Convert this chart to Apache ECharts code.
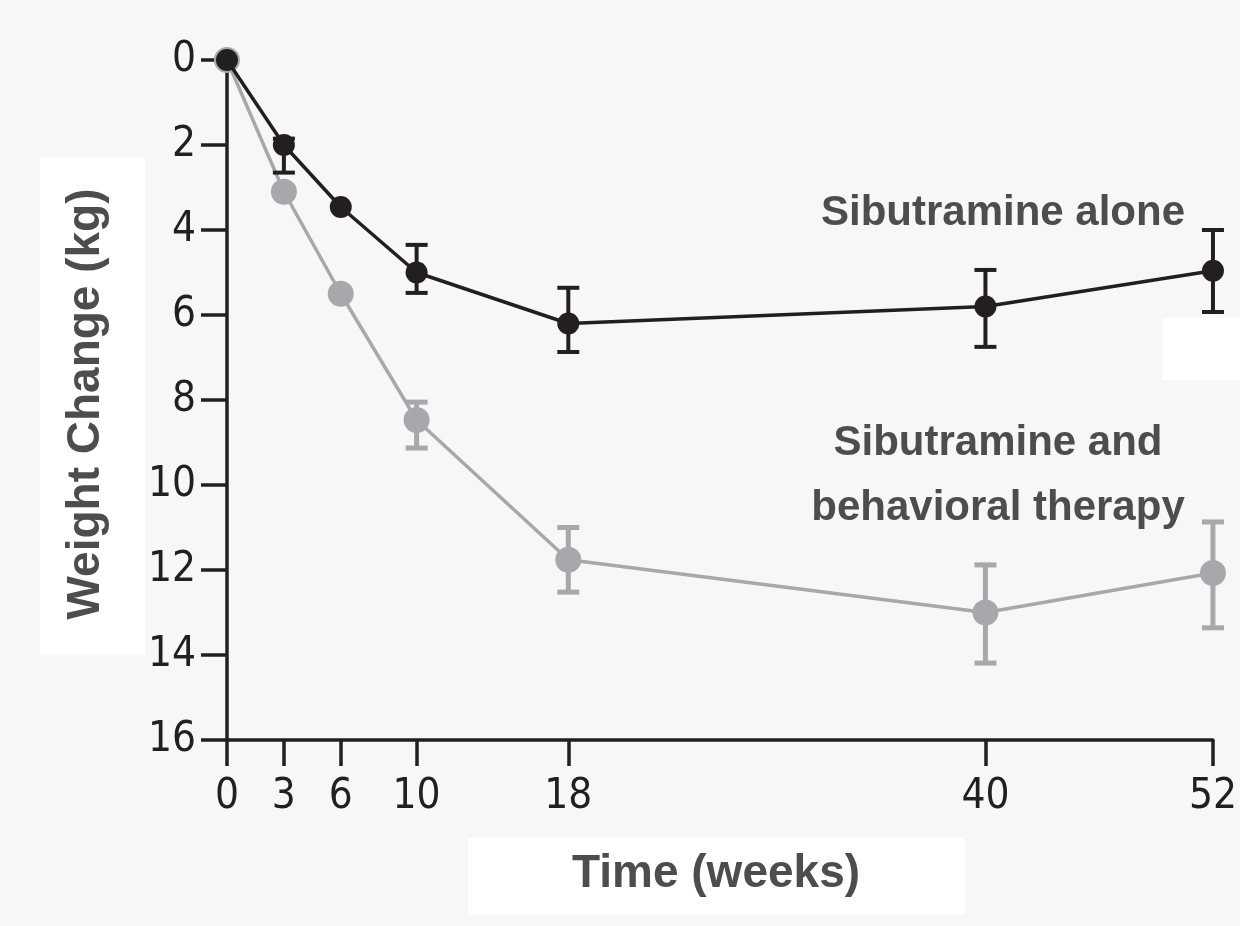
<!DOCTYPE html>
<html>
<head>
<meta charset="utf-8">
<script src="https://cdn.jsdelivr.net/npm/echarts@6/dist/echarts.min.js"></script>
<style>
html,body{margin:0;padding:0;background:#f7f7f7;}
#chart{width:1240px;height:926px;}
</style>
</head>
<body>
<div id="chart"></div>
<script>
const weeks = [0, 3, 6, 10, 18, 40, 52];
const xTickLabels = [0, 3, 6, 10, 18, 40, 52];
const yTickLabels = [0, 2, 4, 6, 8, 10, 12, 14, 16];

const aloneMean = [0, 2.0, 3.46, 5.0, 6.2, 5.8, 4.96];
const aloneLow  = [null, 1.85, null, 4.35, 5.36, 4.94, 4.0];
const aloneHigh = [null, 2.65, null, 5.48, 6.87, 6.75, 5.93];

const therapyMean = [0, 3.1, 5.5, 8.47, 11.76, 13.0, 12.07];
const therapyLow  = [null, null, null, 8.05, 11.0, 11.88, 10.87];
const therapyHigh = [null, null, null, 9.13, 12.52, 14.19, 13.36];

const seriesNames = ['Sibutramine alone', 'Sibutramine and behavioral therapy'];

const BLACK = '#231f20';
const GRAY = '#a7a8ab';
const TEXT = '#4d4d4d';

function pairs(xs, ys) { return xs.map((x, i) => [x, ys[i]]); }
function errs(xs, lo, hi) {
  const out = [];
  xs.forEach((x, i) => { if (lo[i] != null && hi[i] != null) out.push([x, lo[i], hi[i]]); });
  return out;
}
function errRender(color, width) {
  return function (params, api) {
    const x = api.value(0);
    const p1 = api.coord([x, api.value(1)]);
    const p2 = api.coord([x, api.value(2)]);
    const cw = 11;
    return {
      type: 'group',
      children: [
        { type: 'line', shape: { x1: p1[0], y1: p1[1], x2: p2[0], y2: p2[1] }, style: { stroke: color, lineWidth: width } },
        { type: 'line', shape: { x1: p1[0] - cw, y1: p1[1], x2: p1[0] + cw, y2: p1[1] }, style: { stroke: color, lineWidth: width } },
        { type: 'line', shape: { x1: p2[0] - cw, y1: p2[1], x2: p2[0] + cw, y2: p2[1] }, style: { stroke: color, lineWidth: width } }
      ]
    };
  };
}

const chart = echarts.init(document.getElementById('chart'));
const axisFont = '"DejaVu Sans Condensed", "Liberation Sans Narrow", sans-serif';

chart.setOption({
  backgroundColor: '#f7f7f7',
  animation: false,
  grid: { left: 227, right: 18, top: 60, bottom: 186, containLabel: false },
  xAxis: {
    type: 'value', min: 0, max: 52, position: 'bottom',
    axisLine: { show: true, onZero: false, lineStyle: { color: BLACK, width: 3.5 } },
    axisTick: { show: true, length: 26, lineStyle: { color: BLACK, width: 3.5 }, customValues: xTickLabels },
    axisLabel: { color: BLACK, fontSize: 42, fontFamily: axisFont, margin: 36, customValues: xTickLabels },
    splitLine: { show: false }
  },
  yAxis: {
    type: 'value', min: 0, max: 16, interval: 2, inverse: true, position: 'left',
    axisLine: { show: true, onZero: false, lineStyle: { color: BLACK, width: 3.5 } },
    axisTick: { show: true, length: 26, lineStyle: { color: BLACK, width: 3.5 }, customValues: yTickLabels },
    axisLabel: { color: BLACK, fontSize: 42, fontFamily: axisFont, margin: 31, customValues: yTickLabels },
    splitLine: { show: false }
  },
  graphic: [
    { type: 'rect', z: -10, shape: { x: 40, y: 158, width: 105, height: 497 }, style: { fill: '#ffffff' } },
    { type: 'rect', z: -10, shape: { x: 468, y: 838, width: 497, height: 77 }, style: { fill: '#ffffff' } },
    { type: 'rect', z: -10, shape: { x: 1162, y: 318, width: 78, height: 62 }, style: { fill: '#ffffff' } },
    { type: 'text', x: 86, y: 404, rotation: Math.PI / 2,
      style: { text: 'Weight Change (kg)', font: 'bold 46px "Liberation Sans", Arial, sans-serif', fill: TEXT, align: 'center', verticalAlign: 'middle' } },
    { type: 'text', x: 716, y: 874,
      style: { text: 'Time (weeks)', font: 'bold 46px "Liberation Sans", Arial, sans-serif', fill: TEXT, align: 'center', verticalAlign: 'middle' } },
    { type: 'text', x: 1003, y: 213,
      style: { text: seriesNames[0], font: 'bold 42px "Liberation Sans", Arial, sans-serif', fill: TEXT, align: 'center', verticalAlign: 'middle' } },
    { type: 'text', x: 998, y: 476,
      style: { text: 'Sibutramine and\nbehavioral therapy', font: 'bold 42px "Liberation Sans", Arial, sans-serif', lineHeight: 65, fill: TEXT, align: 'center', verticalAlign: 'middle' } }
  ],
  series: [
    { type: 'custom', name: seriesNames[1] + ' err', renderItem: errRender(GRAY, 5), data: errs(weeks, therapyLow, therapyHigh), z: 2 },
    { type: 'line', name: seriesNames[1], data: pairs(weeks, therapyMean), symbol: 'circle', symbolSize: 26,
      lineStyle: { color: GRAY, width: 3.5 }, itemStyle: { color: GRAY }, z: 3 },
    { type: 'custom', name: seriesNames[0] + ' err', renderItem: errRender(BLACK, 4), data: errs(weeks, aloneLow, aloneHigh), z: 4 },
    { type: 'line', name: seriesNames[0], data: pairs(weeks, aloneMean), symbol: 'circle', symbolSize: 22,
      lineStyle: { color: BLACK, width: 3.5 }, itemStyle: { color: BLACK }, z: 5 }
  ]
});
</script>
</body>
</html>
